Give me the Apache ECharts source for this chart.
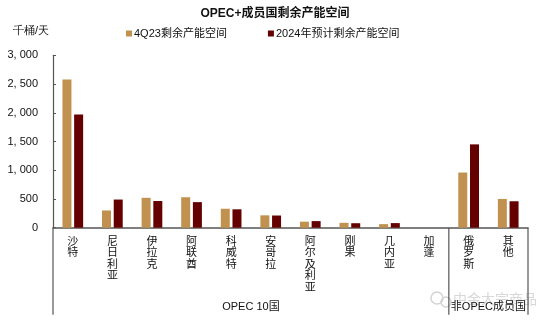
<!DOCTYPE html>
<html><head><meta charset="utf-8">
<script src="https://cdn.jsdelivr.net/npm/echarts@6/dist/echarts.min.js"></script>
<style>html,body{margin:0;padding:0;background:#fff}#c{width:550px;height:324px}</style>
</head><body><div id="c"></div>
<script>
var categories = ['沙特','尼日利亚','伊拉克','阿联酋','科威特','安哥拉','阿尔及利亚','刚果','几内亚','加蓬','俄罗斯','其他'];
var spare4Q23 = [2580, 300, 520, 530, 330, 215, 105, 85, 62, 0, 960, 500];
var spare2024 = [1970, 490, 465, 445, 320, 212, 115, 78, 80, 0, 1450, 460];
var yTicks = [0, 500, 1000, 1500, 2000, 2500, 3000];
var groupNames = ['OPEC 10国', '非OPEC成员国'];
var groupSize = [10, 2];

var chart = echarts.init(document.getElementById('c'), null, {renderer:'canvas'});
var cjk = '"Liberation Sans", "Noto Sans CJK SC", sans-serif';
var option = {
  animation:false,
  textStyle:{fontFamily:cjk},
  title:{text:'OPEC+成员国剩余产能空间', left:'center', top:3,
    textStyle:{fontSize:12, fontWeight:'bold', color:'#111', fontFamily:cjk}},
  legend:{top:23, left:121, itemWidth:6, itemHeight:6, itemGap:41, icon:'rect',
    textStyle:{fontSize:11, color:'#111', padding:[0,0,0,-3]},
    data:['4Q23剩余产能空间','2024年预计剩余产能空间']},
  grid:{left:53, right:22, top:55.3, bottom:96.3, containLabel:false},
  xAxis:{type:'category', data:categories,
    axisLine:{lineStyle:{color:'#555', width:1.5}}, axisTick:{show:false},
    axisLabel:{interval:0, margin:8, fontSize:11, lineHeight:11.6, color:'#111', verticalAlign:'top',
      formatter:function(v){return v.split('').join('\n');}}},
  yAxis:{type:'value', min:yTicks[0], max:yTicks[yTicks.length-1], interval:500,
    splitLine:{show:false},
    axisLine:{show:true, lineStyle:{color:'#555', width:1.2}},
    axisTick:{show:true, inside:true, length:3, lineStyle:{color:'#555'}},
    axisLabel:{fontSize:11, color:'#111', margin:15,
      formatter:function(v){return v.toLocaleString('en-US').replace(',', ', ');}}},
  series:[
    {name:'4Q23剩余产能空间', type:'bar', data:spare4Q23, barWidth:9, barGap:'30%',
      itemStyle:{color:'#C1924F'}},
    {name:'2024年预计剩余产能空间', type:'bar', data:spare2024, barWidth:9,
      itemStyle:{color:'#640000'}}
  ]
};
chart.setOption(option);

function buildGraphic(){
  var p0 = chart.convertToPixel({xAxisIndex:0}, 0);
  var p1 = chart.convertToPixel({xAxisIndex:0}, 1);
  var band = p1 - p0;
  var left = p0 - band/2;
  var yBase = chart.convertToPixel({yAxisIndex:0}, 0);
  var yEnd = yBase + 87;
  var els = [];
  els.push({type:'text', left:13, top:25, style:{text:'千桶/天', fontSize:11, fill:'#111', font:'11px '+cjk}});
  var start = left;
  var xs = [left];
  for (var g=0; g<groupSize.length; g++){
    var end = start + band*groupSize[g];
    xs.push(end);
    els.push({type:'text', x:(start+end)/2, y:yEnd-8,
      style:{text:groupNames[g], font:'11px '+cjk, fill:'#111', textAlign:'center', textVerticalAlign:'middle'}});
    start = end;
  }
  xs.forEach(function(x){
    els.push({type:'line', shape:{x1:x, y1:yBase, x2:x, y2:yEnd},
      style:{stroke:'#555', lineWidth:1.2}});
  });
  // watermark
  els.push({type:'circle', shape:{cx:437, cy:298, r:6}, style:{fill:'none', stroke:'#d3d3d3', lineWidth:1.5}, z:-1});
  els.push({type:'circle', shape:{cx:446, cy:302, r:5}, style:{fill:'none', stroke:'#d3d3d3', lineWidth:1.5}, z:-1});
  els.push({type:'text', x:453, y:300, style:{text:'中金大宗商品', font:'14px '+cjk, fill:'#d8d8d8', textVerticalAlign:'middle'}, z:-1});
  chart.setOption({graphic:els});
}
buildGraphic();
</script></body></html>
